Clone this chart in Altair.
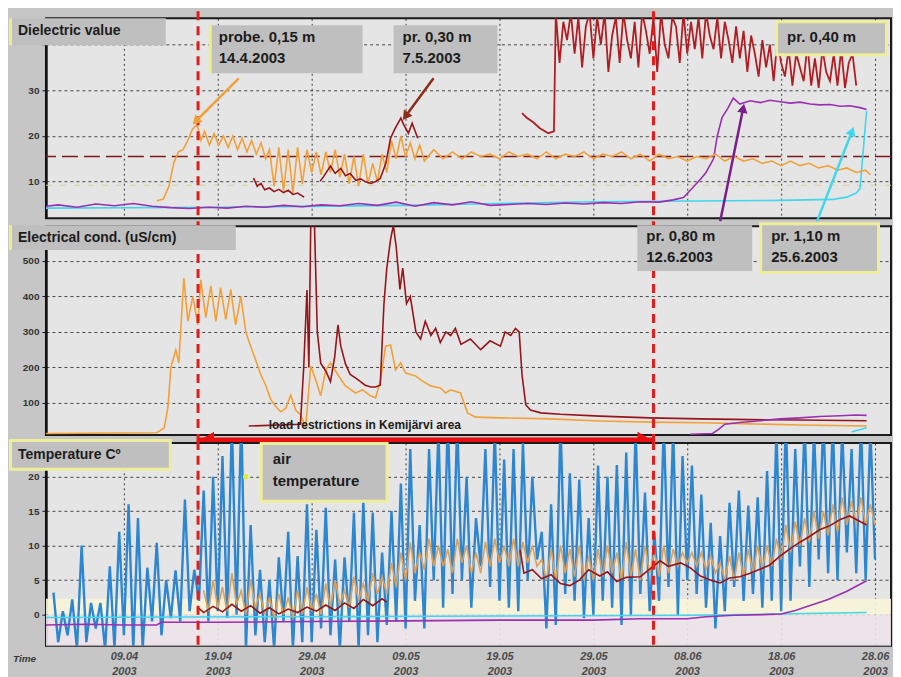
import altair as alt
import pandas as pd

# ---------------- time axis (days counted from 09.04.2003 00:00) ----------------
tick_days = [0, 10, 20, 30, 40, 50, 60, 70, 80]
x_start_day, x_end_day = -8.3, 81.7
restriction_days = [7.9, 56.4]          # red dashed lines (start / end of load restrictions)

# ---------------- Dielectric value ----------------
diel015_day = [3.5, 4.2, 4.8, 5.3, 5.8, 6.3, 6.8, 7.3, 7.8, 8.2, 8.6, 9.1, 9.6, 10.1, 10.6, 11.1, 11.6, 12.1,
               12.6, 13.1, 13.6, 14.1, 14.6, 15.1, 15.5, 16, 16.5, 17, 17.5, 18, 18.5, 19, 19.5, 20, 20.5, 21,
               21.5, 22, 22.5, 23, 23.5, 24, 24.5, 25, 25.5, 26, 26.5, 27, 27.5, 28, 28.5, 29, 29.5, 30, 30.5,
               31, 31.5, 32, 33, 34, 35, 36, 37, 38, 39, 40, 41, 42, 43, 44, 45, 46, 47, 48, 49, 50, 51, 52, 53,
               54, 55, 56, 57, 58, 59, 60, 61, 62, 63, 64, 65, 66, 67, 68, 69, 70, 71, 72, 73, 74, 75, 76, 77,
               78, 79, 79.5]
diel015_val = [5.8, 6.2, 9.0, 14.0, 16.5, 17.0, 19.0, 21.5, 22.5, 19.0, 21.0, 18.0, 20.5, 18.0, 20.0, 17.5, 20.0,
               17.0, 19.5, 16.5, 19.0, 16.0, 18.5, 15.0, 17.0, 9.0, 17.5, 8.0, 17.0, 7.5, 17.5, 9.5, 17.0, 12.0,
               16.5, 11.5, 16.5, 12.0, 17.0, 11.0, 16.0, 9.5, 15.5, 9.0, 16.0, 9.5, 14.0, 10.0, 16.0, 12.0, 19.0,
               15.0, 20.0, 15.5, 18.5, 15.0, 18.0, 14.5, 17.0, 15.0, 16.5, 15.0, 16.5, 15.5, 16.0, 15.0, 16.5,
               15.5, 16.0, 15.0, 16.5, 15.0, 16.0, 15.5, 16.5, 15.0, 16.0, 15.5, 16.5, 15.0, 16.0, 14.5, 16.0,
               15.0, 15.5, 14.5, 15.5, 15.0, 16.0, 14.5, 15.5, 14.5, 15.0, 14.0, 14.5, 13.5, 14.5, 13.5, 14.0,
               13.0, 13.5, 12.5, 13.0, 12.0, 12.5, 11.5]
diel030a_day = [13.8, 14.2, 14.6, 15.0, 15.5, 16.0, 16.5, 17.0, 17.5, 18.0, 18.5, 19.2]
diel030a_val = [10.8, 9.0, 9.6, 8.2, 8.6, 7.8, 8.3, 7.6, 8.1, 7.2, 7.5, 6.6]
diel030b_day = [20.9, 21.3, 22.0, 22.5, 23.1, 23.6, 24.1, 24.7, 25.2, 25.7, 26.3, 26.8, 27.3, 27.9, 28.4, 28.9,
                29.5, 29.8, 30.3, 30.7, 31.3]
diel030b_val = [10.1, 11.2, 13.4, 11.8, 12.9, 11.3, 11.8, 10.3, 10.6, 10.0, 9.6, 10.0, 10.7, 14.0, 19.5, 21.7,
                23.9, 22.5, 20.6, 22.8, 19.5]
diel040_day_start = [42.4, 42.9, 43.6, 44.3, 45.2, 45.8]
diel040_val_start = [25.0, 24.0, 23.0, 21.7, 20.6, 21.0]
diel040_val_osc = [47, 36, 45, 41, 47, 38, 46, 35, 44, 47, 37, 46, 40, 47, 34, 42, 46, 36, 47, 41, 37, 45, 35, 47,
                   43, 38, 46, 34, 47, 40, 37, 46, 44, 36, 47, 38, 45, 39, 46, 37, 47, 42, 39, 46, 37, 45, 41, 36,
                   44, 37, 43, 34, 42, 38, 33, 41, 35, 40, 32, 41, 36, 33, 39, 31, 38, 35, 32, 40, 31, 37, 30.5,
                   39, 34, 32, 38, 31, 39, 30.5, 36, 38, 31]  # every 0.4 d from day 46
diel080_day = [-8.3, -7, -5, -3, -1, 1, 3, 5, 7, 9, 11, 13, 15, 17, 19, 21, 23, 25, 27, 29, 31, 33, 35, 37, 39, 41,
               43, 45, 47, 49, 51, 53, 55, 57, 58.5, 59.6, 60.5, 61.4, 62.0, 62.8, 63.2, 63.7, 64.3, 64.9, 65.6,
               66.7, 67.8, 68.8, 69.9, 71.0, 72.0, 73.1, 74.1, 75.2, 76.3, 77.3, 78.4, 79.1]
diel080_val = [4.6, 4.9, 4.4, 5.1, 4.7, 5.2, 4.6, 4.3, 4.1, 4.4, 4.2, 4.6, 4.4, 4.8, 4.5, 4.9, 4.7, 5.2, 4.8, 5.5,
               4.6, 5.4, 4.9, 5.6, 4.8, 5.0, 5.2, 5.0, 5.3, 5.1, 5.4, 5.2, 5.6, 5.5, 6.0, 6.5, 8.5, 10.5, 12.0,
               15.0, 20.0, 24.0, 26.0, 28.3, 27.0, 27.7, 27.3, 27.8, 27.5, 27.2, 27.4, 27.0, 26.8, 26.9, 26.5,
               26.6, 26.2, 25.8]
diel110_day = [-8.3, 10, 30, 50, 70, 75.5, 77.0, 78.0, 78.4, 79.1]
diel110_val = [4.2, 4.4, 4.8, 5.6, 5.9, 6.1, 6.6, 7.5, 8.5, 25.5]
diel_ref_line = [15.5]
diel_faint_line = [9.2]

# ---------------- Electrical conductivity (uS/cm) ----------------
ec015_day = [-8.3, 3.5, 4.3, 4.7, 5.0, 5.53, 5.85, 6.38, 6.81, 7.34, 7.87, 8.19, 8.72, 9.26, 9.79, 10.3, 10.85,
             11.38, 11.9, 12.45, 12.98, 13.5, 14.04, 14.57, 15.1, 15.64, 16.17, 16.7, 17.24, 17.77, 18.3, 18.83,
             19.36, 19.9, 20.43, 20.96, 21.5, 22.0, 22.87, 23.6, 24.68, 25.4, 26.28, 26.8, 27.34, 27.87, 28.4,
             28.94, 29.47, 30.0, 30.53, 31.06, 31.6, 32.66, 33.7, 34.26, 34.8, 35.85, 36.6, 37.45, 40.1, 45.4,
             50.7, 56.0, 61.4, 66.7, 72.0, 79.1]
ec015_val = [14, 16, 30, 90, 200, 249, 213, 452, 330, 400, 320, 447, 340, 430, 330, 425, 335, 420, 320, 400, 300,
             260, 220, 180, 150, 110, 90, 75, 85, 122, 80, 66, 30, 204, 165, 120, 193, 213, 176, 148, 128, 137,
             120, 114, 165, 260, 263, 193, 213, 184, 180, 176, 165, 148, 142, 128, 137, 128, 72, 60, 58, 55, 49,
             46, 44, 41, 38, 35]
ec030_day = [13.3, 18.8, 19.15, 19.5, 19.7, 19.9, 20.3, 20.6, 20.96, 21.5, 22.0, 22.45, 22.8, 23.1, 23.6, 24.1,
             24.7, 25.2, 25.7, 26.3, 26.8, 27.3, 27.7, 28.0, 28.4, 28.7, 29.0, 29.4, 29.7, 30.1, 30.5, 31.1, 31.6,
             32.1, 32.7, 33.2, 33.7, 34.3, 34.8, 35.3, 35.9, 36.9, 38.0, 39.0, 40.1, 40.6, 41.2, 41.7, 42.1, 42.4,
             42.8, 43.3, 44.4, 46.5, 50.7, 56.0, 61.4, 66.7, 72.0, 79.1]
ec030_val = [35, 40, 200, 418, 200, 600, 600, 300, 212, 190, 160, 230, 320, 260, 210, 180, 170, 160, 150, 145,
             145, 150, 380, 480, 560, 600, 540, 420, 480, 380, 400, 300, 280, 330, 290, 310, 270, 300, 290, 310,
             265, 280, 250, 275, 260, 300, 290, 310, 300, 180, 95, 80, 72, 68, 63, 58, 55, 53, 52, 50]
ec080_day = [60.3, 62.7, 63.3, 64.0, 65.6, 67.8, 69.9, 72.0, 74.1, 76.3, 77.9, 79.1]
ec080_val = [12, 14, 25, 40, 45, 50, 55, 58, 62, 64, 66, 65]
ec110_day = [77.5, 79.1]
ec110_val = [18, 30]

# ---------------- Temperature (deg C) ----------------
# air temperature: daily maximum (noon) and minimum (night), days starting 01.04.2003
air_max = [3.2, 0.5, 2.2, 10, 1.7, 1.7, 7, 12, 16, 14, 6.8, 10.4, 5, 6.4, 16.7, 6.5, 18, 20, 23, 28, 29, 13, 6.5,
           5, 8.3, 12, 8.5, 16, 12.3, 15.5, 8, 8.3, 14.8, 16.5, 14.8, 9, 15, 19, 24, 13, 24, 27, 29, 28, 20, 14,
           24, 27, 22.5, 24, 25, 20, 12, 16, 28, 20.5, 19.6, 14, 21.6, 20, 21.7, 23.5, 27, 17.7, 12, 28, 27, 23,
           21.6, 17.4, 13.3, 11.4, 16.2, 18, 15.8, 17, 20.8, 27, 29, 24, 28, 27, 29, 28, 27, 24, 28, 27]
air_min = [-4, -3, -5, -4, -2, -5, -5, -3, -5, -5, -1, -3, -0.5, -1, 0.5, 2, -1, 0.5, -0.5, 0, -5, -3, -4, -5, -1,
           -5, -4, -4, -2, -3, -5, -1, -5, -3, -4, -1.5, -1, -2, 2, -2, 5, 1, 3, 5, 1, 7, 4, 2, 1, 0.5, 5, 8, -2,
           -1.5, 3, 2, -0.5, 0, 2, 1, -1.5, 0, 3, 0.5, 2, 4, 0, 5, 3, 1, -2, 0.5, 4, 2, 3, 1, 2, 0.5, 2, 7, 4, 8,
           6, 5, 9, 6, 5, 8]
air_first_day = -8
soil015_max = [3.5, 5, 4, 6, 3.5, 5, 3, 2.5, 3, 2.5, 3.5, 4, 3, 4.5, 5, 3.5, 5.5, 4.5, 6, 5.5, 7.5, 9, 10.5, 9, 11,
               10, 9.5, 11, 10, 9, 10.5, 11, 10, 11, 10.5, 10, 8, 9.5, 10, 9.5, 10, 8.5, 9.5, 10, 9, 10.5, 9.5, 10,
               9, 10, 9.5, 9, 9, 9, 8.5, 7.5, 8.5, 9, 9.5, 10, 10, 11, 13, 13.5, 14, 15, 15, 16, 17, 16.5, 17, 16]
soil015_min = [0.5, 1, 0.5, 1.5, 0, 1, 0, -0.5, 0, -0.5, 0, 0.5, 0, 1, 1.5, 1, 2, 2, 3, 3, 4, 5, 6, 6.5, 7, 7, 6,
               7.5, 6, 6, 7, 7.5, 7, 7, 7.5, 7, 5, 5, 6, 5.5, 5, 5, 5.5, 6, 5, 5.5, 5, 6, 5.5, 6, 7, 7.5, 7, 6.5, 6,
               5, 5, 5.5, 6, 6.5, 7, 8, 9, 10, 10.5, 11, 11.5, 12, 13, 13, 13, 13]
soil015_first_day = 8
t030a_day = [7.9, 8.5, 9.5, 10.5, 11.5, 12.5, 13.5, 14.5, 15.5, 16.5, 17.5, 18.5, 19.5, 20.5, 21.5, 22.5, 23.5,
             24.5, 25.5, 26.5, 27.5, 28.0]
t030a_val = [1.0, 0.3, 1.2, 0.4, 1.5, 0.5, 1.3, 0.2, 1.0, 0.1, 0.8, 0.3, 1.1, 0.5, 1.4, 0.6, 1.7, 0.9, 2.2, 1.3, 2.3,
             1.8]
t030b_day = [42.2, 42.6, 43.5, 44.5, 45.5, 46.5, 47.5, 48.5, 49.5, 50.7, 51.5, 52.5, 53.5, 55.0, 56.0, 57.1, 58.0,
             59.3, 60.3, 61.4, 62.5, 63.5, 64.5, 65.6, 66.7, 67.8, 68.8, 69.9, 71.0, 72.0, 73.1, 74.1, 75.2, 76.3,
             77.3, 78.4, 79.1]
t030b_val = [9.4, 6.0, 6.5, 5.2, 5.8, 4.5, 4.2, 5.0, 6.5, 5.6, 6.2, 4.8, 5.4, 5.5, 6.6, 7.8, 7.0, 7.5, 6.8, 5.6, 5.0,
             4.6, 5.3, 5.5, 6.0, 6.6, 7.2, 8.5, 9.6, 10.5, 11.4, 12.3, 12.9, 13.8, 14.3, 13.5, 13.0]
t080_day = [-8.3, -4, 0, 3.5, 4.0, 10, 20, 30, 40, 50, 55, 60, 62, 65, 68, 70, 71.5, 73, 75, 77, 79.1]
t080_val = [-1.5, -1.4, -1.5, -1.5, -1.1, -1.1, -1.0, -0.9, -0.8, -0.8, -0.6, -0.6, -0.3, -0.1, 0.0, 0.1, 0.6, 1.3,
            2.2, 3.4, 4.9]
t110_day = [-8.3, 20, 40, 60, 79.1]
t110_val = [-0.4, -0.3, -0.2, -0.1, 0.3]
temp_bands = [(-4.5, 0.0), (0.0, 2.3)]

# ---------------- colours ----------------
C_ORANGE = "#f2a13a"
C_TAN = "#d9a15c"
C_DARKRED = "#95161a"
C_RED40 = "#b01e24"
C_PURPLE = "#9a2fb0"
C_CYAN = "#3fd6ee"
C_AIR = "#2d86d2"
C_EVENT = "#e21b1b"

# ---------------- helpers ----------------
BASE = pd.Timestamp("2003-04-09 00:00:00")


def ts(d):
    return BASE + pd.Timedelta(days=float(d))


def dt(d):
    t = ts(d)
    return alt.DateTime(year=t.year, month=t.month, date=t.day, hours=t.hour, minutes=t.minute)


def series(days, vals):
    return pd.DataFrame({"t": [ts(d) for d in days], "v": vals})


def daily_pairs(first_day, maxima, minima):
    days, vals = [], []
    for i, (hi, lo) in enumerate(zip(maxima, minima)):
        days += [first_day + i + 0.5, first_day + i + 1.0]
        vals += [hi, lo]
    return series(days, vals)


W = 846
H = [200, 209, 203]
XDOM = [dt(x_start_day), dt(x_end_day)]
TICKS = [dt(d) for d in tick_days]
ONE = pd.DataFrame({"k": [0]})
FONT = "Liberation Sans"


def xenc(bottom=False):
    if bottom:
        ax = alt.Axis(values=TICKS, grid=True, ticks=False, domain=False, title=None,
                      labelExpr="[timeFormat(datum.value, '%d.%m'), timeFormat(datum.value, '%Y')]",
                      labelFontStyle="italic", labelFontWeight="bold", labelFontSize=11, labelColor="#4a4a4a",
                      labelPadding=5, labelLineHeight=15, labelFont=FONT,
                      gridDash=[2, 3], gridColor="#111", gridOpacity=0.8)
    else:
        ax = alt.Axis(values=TICKS, grid=True, ticks=False, domain=False, labels=False, title=None,
                      gridDash=[2, 3], gridColor="#111", gridOpacity=0.8)
    return alt.X("t:T", scale=alt.Scale(domain=XDOM), axis=ax)


def yenc(domain, values, hide=None, field="v"):
    expr = "datum.label" if hide is None else f"datum.value == {hide} ? '' : datum.label"
    ax = alt.Axis(values=values, grid=True, gridDash=[3, 3], gridColor="#111", gridOpacity=0.75, title=None,
                  domain=True, domainColor="#111", domainWidth=2.5, ticks=True, tickSize=4, tickColor="#111",
                  labelExpr=expr, labelFont=FONT, labelFontWeight="bold", labelFontSize=10,
                  labelColor="#333", labelPadding=3)
    return alt.Y(f"{field}:Q", scale=alt.Scale(domain=domain, nice=False, zero=False), axis=ax)


def line(df, color, y, xe, width=1.5, dash=None):
    kw = dict(color=color, strokeWidth=width, clip=True)
    if dash:
        kw["strokeDash"] = dash
    return alt.Chart(df).mark_line(**kw).encode(x=xe, y=y)


def box(x1, x2, y1, y2, fill="#bfbfbf", border=None):
    layers = []
    if border:
        layers.append(alt.Chart(ONE).mark_rect(fill=border).encode(
            x=alt.value(x1 - 3), x2=alt.value(x2 + 3), y=alt.value(y1 - 3), y2=alt.value(y2 + 3)))
    layers.append(alt.Chart(ONE).mark_rect(fill=fill).encode(
        x=alt.value(x1), x2=alt.value(x2), y=alt.value(y1), y2=alt.value(y2)))
    return layers


def leftbar(x, y1, y2, color="#eeee88"):
    return alt.Chart(ONE).mark_rect(fill=color).encode(
        x=alt.value(x), x2=alt.value(x + 3), y=alt.value(y1), y2=alt.value(y2))


def label(x, y, text, size=14, baseline="middle", lh=21, style="normal", weight="bold", color="#1c1c1c"):
    return alt.Chart(ONE).mark_text(text=text, align="left", baseline=baseline, font=FONT, fontSize=size,
                                    fontWeight=weight, fontStyle=style, lineHeight=lh, color=color).encode(
        x=alt.value(x), y=alt.value(y))


def arrow(x1, y1, x2, y2, angle, color, width=2.5, size=110):
    shaft = alt.Chart(ONE).mark_rule(color=color, strokeWidth=width).encode(
        x=alt.value(x1), y=alt.value(y1), x2=alt.value(x2), y2=alt.value(y2))
    head = alt.Chart(ONE).mark_point(shape="triangle-up", filled=True, color=color, opacity=1, size=size,
                                     angle=angle).encode(x=alt.value(x2), y=alt.value(y2))
    return [shaft, head]


events = pd.DataFrame({"t": [ts(d) for d in restriction_days]})


def event_rules(xe, y1, y2):
    return alt.Chart(events).mark_rule(color=C_EVENT, strokeWidth=3, strokeDash=[9, 6]).encode(
        x=xe, y=alt.value(y1), y2=alt.value(y2))


# ---------------- panel 1 : dielectric value ----------------
Y1 = yenc([2.0, 45.75], [10, 20, 30, 40], hide=40)
X1 = xenc()
d040 = pd.concat([series(diel040_day_start, diel040_val_start),
                  series([46.0 + 0.4 * k for k in range(len(diel040_val_osc))], diel040_val_osc)])
p1_layers = [
    alt.Chart(pd.DataFrame({"v": diel_faint_line})).mark_rule(color="#d6cf9a", strokeWidth=1.2,
                                                              strokeDash=[6, 8]).encode(y=Y1),
    alt.Chart(pd.DataFrame({"v": diel_ref_line})).mark_rule(color="#7d1b1b", strokeWidth=1.4,
                                                            strokeDash=[16, 6]).encode(y=Y1),
    line(series(diel110_day, diel110_val), C_CYAN, Y1, X1, 1.6),
    line(series(diel080_day, diel080_val), C_PURPLE, Y1, X1, 1.6),
    line(series(diel015_day, diel015_val), C_ORANGE, Y1, X1, 1.6),
    line(series(diel030a_day, diel030a_val), C_DARKRED, Y1, X1, 1.6),
    line(series(diel030b_day, diel030b_val), C_DARKRED, Y1, X1, 1.6),
    line(d040, C_RED40, Y1, X1, 1.8),
    event_rules(X1, -7, 208),
]
p1_layers += box(-37, 120, 0, 27)
p1_layers += [leftbar(-37, 0, 27)]
p1_layers += box(165, 317, 7, 55)
p1_layers += [leftbar(163, 7, 55)]
p1_layers += box(348, 452, 7, 55)
p1_layers += box(733, 840, 5, 35, border="#eeee9a")
p1_layers += [
    label(-28, 13, "Dielectric value", 14),
    label(173, 12, ["probe. 0,15 m", "14.4.2003"], 15, baseline="top"),
    label(357, 12, ["pr. 0,30 m", "7.5.2003"], 15, baseline="top"),
    label(742, 12, "pr. 0,40 m", 15, baseline="top"),
]
p1_layers += arrow(193, 60, 150, 103, 225, C_ORANGE)
p1_layers += arrow(388, 60, 360, 98, 216, "#8e2a18")
p1_layers += arrow(675, 203, 698, 90, 11, "#7a1e8a")
p1_layers += arrow(772, 203, 807, 113, 21, C_CYAN)
panel1 = alt.layer(*p1_layers).properties(width=W, height=H[0])

# ---------------- panel 2 : electrical conductivity ----------------
Y2 = yenc([10, 598], [100, 200, 300, 400, 500])
X2 = xenc()
restr = pd.DataFrame({"t": [ts(restriction_days[0])], "t2": [ts(restriction_days[1])]})
p2_layers = [
    line(series(ec110_day, ec110_val), C_CYAN, Y2, X2, 1.5),
    line(series(ec015_day, ec015_val), C_ORANGE, Y2, X2, 1.6),
    line(series(ec030_day, ec030_val), C_DARKRED, Y2, X2, 1.6),
    line(series(ec080_day, ec080_val), C_PURPLE, Y2, X2, 1.6),
    event_rules(X2, -2, 216),
    alt.Chart(restr).mark_rule(color="#e81010", strokeWidth=5).encode(
        x=X2, x2="t2:T", y=alt.value(214)),
    alt.Chart(restr).mark_point(shape="triangle-left", filled=True, color="#e81010", opacity=1, size=260,
                                xOffset=9).encode(x=X2, y=alt.value(214)),
    alt.Chart(restr).mark_point(shape="triangle-right", filled=True, color="#e81010", opacity=1, size=260,
                                xOffset=-9).encode(x=alt.X("t2:T", scale=alt.Scale(domain=XDOM), axis=None),
                                                   y=alt.value(214)),
]
p2_layers += box(-37, 190, -1, 24)
p2_layers += [leftbar(-37, -1, 24)]
p2_layers += box(592, 707, -1, 45)
p2_layers += box(717, 832, -1, 45, border="#eeee9a")
p2_layers += [
    label(-28, 12, "Electrical cond. (uS/cm)", 14),
    label(601, 3, ["pr. 0,80 m", "12.6.2003"], 15, baseline="top"),
    label(726, 3, ["pr. 1,10 m", "25.6.2003"], 15, baseline="top"),
    label(223, 199, "load restrictions in Kemijärvi area", 12),
]
panel2 = alt.layer(*p2_layers).properties(width=W, height=H[1])

# ---------------- panel 3 : temperature ----------------
Y3 = yenc([-4.5, 24.9], [0, 5, 10, 15, 20])
X3 = xenc(bottom=True)
bands = pd.DataFrame({"v": [b[0] for b in temp_bands], "v2": [b[1] for b in temp_bands],
                      "c": ["#ece3e9", "#f7f4d8"]})
p3_layers = [
    alt.Chart(bands).mark_rect(opacity=0.9).encode(
        x=alt.value(0), x2=alt.value(W), y=Y3, y2="v2:Q",
        color=alt.Color("c:N", scale=None)),
    line(daily_pairs(air_first_day, air_max, air_min), C_AIR, Y3, X3, 2.4),
    line(series(t110_day, t110_val), C_CYAN, Y3, X3, 1.5),
    line(series(t080_day, t080_val), C_PURPLE, Y3, X3, 1.6),
    line(daily_pairs(soil015_first_day, soil015_max, soil015_min), C_TAN, Y3, X3, 1.6),
    line(series(t030a_day, t030a_val), C_DARKRED, Y3, X3, 1.6),
    line(series(t030b_day, t030b_val), C_DARKRED, Y3, X3, 1.6),
    event_rules(X3, -2, 205),
]
p3_layers += box(-34, 123, -1, 25, border="#eeee9a")
p3_layers += box(217, 340, 2, 57, border="#eeee9a")
p3_layers += [
    label(-28, 12, "Temperature Cº", 14),
    label(227, 9, ["air", "temperature"], 15, baseline="top", lh=22),
    alt.Chart(ONE).mark_point(filled=True, color="#e8e830", size=30, opacity=1).encode(
        x=alt.value(200), y=alt.value(34)),
    label(-33, 216, "Time", 10, style="italic", color="#3a3a3a"),
]
panel3 = alt.layer(*p3_layers).properties(width=W, height=H[2])

chart = alt.VConcatChart(
    vconcat=[panel1, panel2, panel3], spacing=8, bounds="flush",
    padding={"left": 0, "top": 0, "right": 0, "bottom": 0},
).configure(background="#c6c6c6").configure_view(
    fill="#e5e5e5", stroke="#1a1a1a", strokeWidth=2
).configure_axis(labelFont=FONT)

chart.save("out.html", embed_options={"renderer": "svg", "actions": False})
